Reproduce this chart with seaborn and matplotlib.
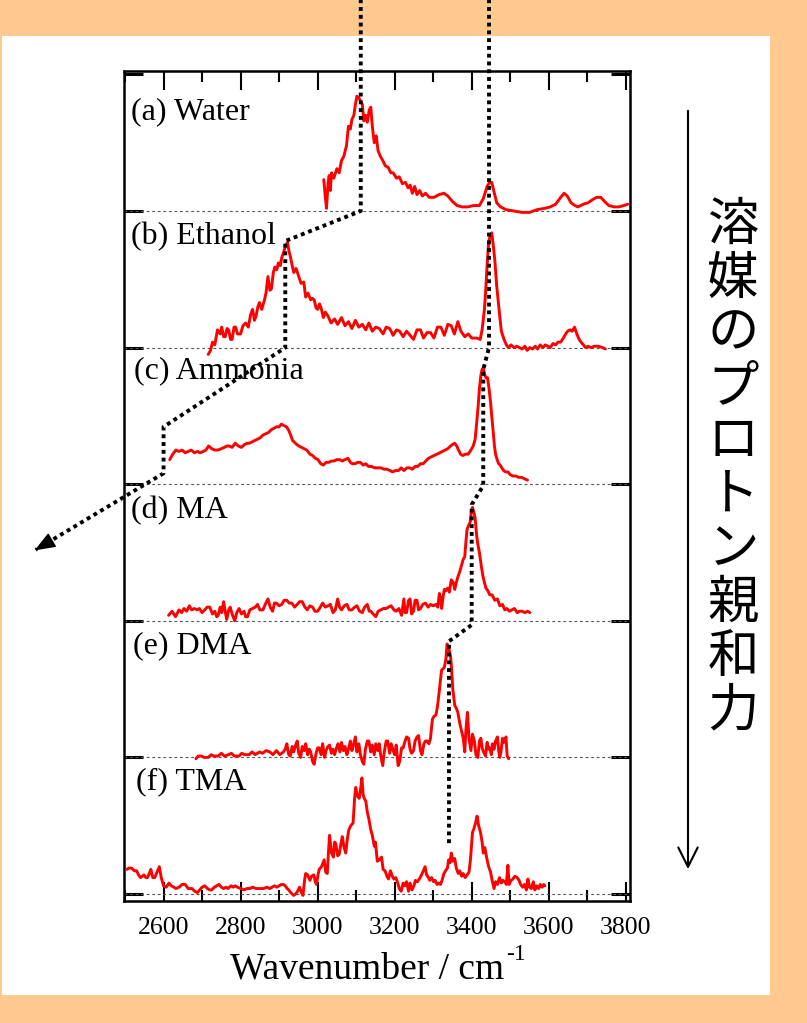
import numpy as np
import pandas as pd
import matplotlib
matplotlib.use("Agg")
import matplotlib.pyplot as plt
import seaborn as sns
from matplotlib.patches import Rectangle, FancyArrowPatch
from matplotlib.ticker import MultipleLocator

# ---------------- data ----------------
panel_labels = ["(a) Water", "(b) Ethanol", "(c) Ammonia", "(d) MA", "(e) DMA", "(f) TMA"]
panel_offsets = [5, 4, 3, 2, 1, 0]

water_wn = [3016, 3020, 3023, 3027, 3030, 3033, 3036, 3042, 3050, 3056, 3062, 3068, 3075, 3080, 3085, 3089,
            3094, 3098, 3102, 3107, 3112, 3116, 3120, 3125, 3129, 3134, 3138, 3142, 3147, 3152, 3157, 3163,
            3169, 3176, 3183, 3190, 3196, 3205, 3212, 3220, 3228, 3235, 3240, 3246, 3252, 3258, 3265, 3272,
            3280, 3290, 3302, 3315, 3328, 3338, 3350, 3362, 3375, 3390, 3405, 3420, 3430, 3440, 3447, 3452,
            3458, 3465, 3475, 3489, 3510, 3530, 3550, 3570, 3590, 3604, 3618, 3631, 3640, 3648, 3658, 3668,
            3676, 3690, 3702, 3712, 3724, 3735, 3745, 3756, 3770, 3782, 3795, 3805]
water_int = [0.23, 0.10, 0.02, 0.20, 0.26, 0.15, 0.28, 0.24, 0.31, 0.28, 0.37, 0.40, 0.48, 0.62, 0.60, 0.67,
             0.70, 0.78, 0.84, 0.83, 0.80, 0.78, 0.66, 0.70, 0.65, 0.74, 0.76, 0.62, 0.50, 0.55, 0.44, 0.40,
             0.37, 0.33, 0.32, 0.28, 0.28, 0.24, 0.25, 0.20, 0.21, 0.17, 0.19, 0.13, 0.18, 0.12, 0.15, 0.11,
             0.13, 0.10, 0.10, 0.12, 0.13, 0.11, 0.07, 0.04, 0.03, 0.03, 0.04, 0.04, 0.09, 0.18, 0.21, 0.21,
             0.14, 0.06, 0.03, 0.01, 0.00, -0.01, -0.01, 0.01, 0.02, 0.03, 0.05, 0.10, 0.13, 0.11, 0.06, 0.04,
             0.03, 0.05, 0.06, 0.08, 0.10, 0.10, 0.07, 0.04, 0.03, 0.03, 0.04, 0.05]

ethanol_wn = [2716, 2722, 2727, 2733, 2740, 2747, 2751, 2756, 2760, 2765, 2769, 2774, 2778, 2783, 2787, 2792,
              2800, 2806, 2813, 2820, 2826, 2831, 2836, 2840, 2845, 2849, 2855, 2862, 2866, 2871, 2876, 2880,
              2885, 2889, 2894, 2898, 2903, 2907, 2912, 2916, 2922, 2926, 2929, 2934, 2938, 2944, 2951, 2957,
              2964, 2969, 2975, 2982, 2987, 2991, 2996, 3000, 3005, 3009, 3015, 3020, 3027, 3035, 3044, 3052,
              3062, 3071, 3080, 3089, 3098, 3107, 3116, 3125, 3133, 3142, 3151, 3160, 3170, 3178, 3187, 3196,
              3205, 3213, 3222, 3231, 3240, 3249, 3258, 3267, 3275, 3284, 3293, 3302, 3311, 3320, 3329, 3338,
              3347, 3355, 3364, 3372, 3382, 3391, 3400, 3413, 3422, 3427, 3433, 3436, 3440, 3444, 3448, 3452,
              3456, 3460, 3465, 3471, 3477, 3484, 3490, 3496, 3502, 3510, 3517, 3524, 3531, 3538, 3544, 3551,
              3558, 3565, 3571, 3578, 3585, 3591, 3598, 3604, 3611, 3618, 3624, 3631, 3638, 3644, 3649, 3655,
              3661, 3667, 3673, 3679, 3684, 3690, 3696, 3702, 3710, 3718, 3729, 3740, 3747]
ethanol_int = [-0.05, -0.02, 0.04, 0.02, 0.13, 0.10, 0.15, 0.08, 0.08, 0.14, 0.13, 0.06, 0.06, 0.15, 0.15, 0.10,
               0.10, 0.16, 0.18, 0.15, 0.24, 0.28, 0.20, 0.23, 0.30, 0.33, 0.28, 0.35, 0.40, 0.52, 0.42, 0.43,
               0.55, 0.59, 0.57, 0.62, 0.60, 0.66, 0.70, 0.74, 0.77, 0.70, 0.67, 0.60, 0.55, 0.58, 0.52, 0.47,
               0.48, 0.37, 0.40, 0.35, 0.36, 0.35, 0.29, 0.28, 0.32, 0.29, 0.22, 0.26, 0.23, 0.18, 0.21, 0.17,
               0.22, 0.16, 0.19, 0.14, 0.20, 0.15, 0.17, 0.13, 0.18, 0.12, 0.15, 0.14, 0.10, 0.15, 0.14, 0.09,
               0.13, 0.12, 0.08, 0.12, 0.09, 0.06, 0.13, 0.13, 0.07, 0.11, 0.11, 0.07, 0.15, 0.15, 0.09, 0.17,
               0.16, 0.10, 0.19, 0.12, 0.08, 0.10, 0.07, 0.07, 0.06, 0.13, 0.28, 0.40, 0.60, 0.77, 0.82, 0.84,
               0.75, 0.64, 0.45, 0.28, 0.12, 0.06, 0.02, 0.00, 0.02, 0.00, 0.01, 0.00, -0.01, 0.01, -0.02, 0.00,
               -0.01, 0.01, -0.01, 0.02, 0.00, 0.02, 0.01, 0.00, 0.03, 0.02, 0.04, 0.04, 0.07, 0.10, 0.12, 0.13,
               0.12, 0.15, 0.10, 0.06, 0.04, 0.02, 0.00, 0.01, 0.00, 0.01, 0.01, 0.00, -0.01]

ammonia_wn = [2616, 2624, 2632, 2640, 2648, 2656, 2664, 2672, 2680, 2688, 2695, 2703, 2710, 2717, 2725, 2733,
              2741, 2750, 2758, 2765, 2770, 2778, 2786, 2794, 2802, 2810, 2817, 2823, 2830, 2837, 2844, 2851,
              2858, 2866, 2873, 2880, 2887, 2893, 2900, 2906, 2912, 2919, 2924, 2930, 2935, 2942, 2951, 2958,
              2965, 2972, 2980, 2987, 2994, 3001, 3008, 3015, 3022, 3029, 3036, 3043, 3050, 3057, 3064, 3071,
              3079, 3085, 3090, 3097, 3104, 3111, 3118, 3125, 3132, 3140, 3148, 3156, 3164, 3172, 3180, 3188,
              3195, 3202, 3210, 3217, 3224, 3232, 3239, 3246, 3253, 3260, 3267, 3274, 3281, 3288, 3295, 3302,
              3310, 3317, 3324, 3331, 3338, 3345, 3350, 3356, 3361, 3366, 3371, 3377, 3384, 3391, 3398, 3404,
              3409, 3413, 3417, 3420, 3424, 3427, 3430, 3434, 3437, 3441, 3445, 3449, 3452, 3456, 3459, 3462,
              3466, 3470, 3474, 3478, 3483, 3488, 3494, 3500, 3507, 3515, 3522, 3530, 3537, 3545]
ammonia_int = [0.18, 0.22, 0.25, 0.24, 0.25, 0.23, 0.24, 0.25, 0.23, 0.24, 0.23, 0.24, 0.25, 0.28, 0.26, 0.25,
               0.25, 0.26, 0.27, 0.28, 0.28, 0.27, 0.30, 0.28, 0.27, 0.29, 0.30, 0.30, 0.31, 0.32, 0.33, 0.34,
               0.36, 0.37, 0.38, 0.40, 0.41, 0.42, 0.42, 0.44, 0.43, 0.42, 0.40, 0.36, 0.32, 0.30, 0.28, 0.27,
               0.26, 0.25, 0.22, 0.21, 0.19, 0.18, 0.15, 0.14, 0.16, 0.16, 0.17, 0.17, 0.18, 0.18, 0.17, 0.18,
               0.19, 0.16, 0.15, 0.15, 0.16, 0.16, 0.14, 0.15, 0.13, 0.13, 0.12, 0.12, 0.12, 0.11, 0.11, 0.10,
               0.09, 0.10, 0.10, 0.12, 0.10, 0.12, 0.12, 0.11, 0.13, 0.13, 0.15, 0.15, 0.17, 0.19, 0.20, 0.21,
               0.22, 0.23, 0.24, 0.25, 0.26, 0.28, 0.29, 0.30, 0.28, 0.25, 0.22, 0.21, 0.22, 0.22, 0.25, 0.28,
               0.33, 0.45, 0.58, 0.70, 0.80, 0.84, 0.85, 0.80, 0.78, 0.78, 0.70, 0.60, 0.50, 0.38, 0.28, 0.22,
               0.18, 0.15, 0.14, 0.12, 0.10, 0.09, 0.09, 0.07, 0.06, 0.06, 0.05, 0.05, 0.04, 0.03]

ma_wn = [2613, 2622, 2631, 2640, 2647, 2653, 2660, 2667, 2673, 2680, 2687, 2693, 2700, 2707, 2713, 2720,
         2727, 2733, 2738, 2742, 2747, 2751, 2756, 2760, 2764, 2769, 2773, 2778, 2782, 2785, 2790, 2796,
         2802, 2809, 2813, 2818, 2824, 2831, 2838, 2844, 2850, 2858, 2864, 2871, 2877, 2883, 2888, 2893,
         2900, 2907, 2913, 2920, 2926, 2933, 2940, 2947, 2953, 2960, 2967, 2973, 2980, 2987, 2993, 3000,
         3007, 3013, 3020, 3027, 3033, 3040, 3046, 3052, 3057, 3062, 3069, 3076, 3082, 3089, 3096, 3102,
         3109, 3116, 3122, 3129, 3134, 3138, 3144, 3151, 3157, 3164, 3171, 3178, 3184, 3191, 3198, 3204,
         3211, 3218, 3224, 3227, 3231, 3236, 3240, 3244, 3249, 3253, 3258, 3262, 3267, 3273, 3280, 3287,
         3293, 3300, 3307, 3312, 3316, 3319, 3322, 3326, 3329, 3333, 3338, 3342, 3347, 3352, 3356, 3360,
         3364, 3369, 3373, 3378, 3382, 3385, 3388, 3392, 3396, 3399, 3402, 3406, 3409, 3413, 3416, 3420,
         3425, 3429, 3433, 3437, 3442, 3447, 3453, 3460, 3467, 3473, 3480, 3486, 3491, 3498, 3504, 3511,
         3518, 3524, 3531, 3538, 3545, 3551]
ma_int = [0.04, 0.07, 0.03, 0.08, 0.06, 0.09, 0.07, 0.11, 0.08, 0.09, 0.08, 0.09, 0.06, 0.08, 0.10, 0.10,
          0.05, 0.07, 0.03, 0.04, 0.10, 0.06, 0.14, 0.07, 0.01, 0.08, 0.10, 0.05, 0.02, 0.00, 0.06, 0.09,
          0.05, 0.07, 0.03, 0.03, 0.08, 0.09, 0.10, 0.12, 0.08, 0.08, 0.12, 0.16, 0.10, 0.07, 0.13, 0.13,
          0.11, 0.12, 0.15, 0.15, 0.13, 0.13, 0.10, 0.12, 0.14, 0.14, 0.10, 0.08, 0.11, 0.10, 0.07, 0.07,
          0.10, 0.13, 0.10, 0.11, 0.12, 0.06, 0.08, 0.16, 0.10, 0.08, 0.11, 0.12, 0.08, 0.08, 0.10, 0.11,
          0.07, 0.06, 0.10, 0.12, 0.07, 0.07, 0.05, 0.03, 0.07, 0.08, 0.09, 0.09, 0.10, 0.11, 0.08, 0.07,
          0.09, 0.04, 0.16, 0.06, 0.06, 0.15, 0.16, 0.05, 0.07, 0.15, 0.15, 0.08, 0.09, 0.12, 0.13, 0.10,
          0.12, 0.11, 0.12, 0.10, 0.20, 0.17, 0.09, 0.18, 0.23, 0.22, 0.24, 0.21, 0.30, 0.28, 0.23, 0.28,
          0.32, 0.36, 0.40, 0.45, 0.47, 0.58, 0.67, 0.70, 0.72, 0.80, 0.83, 0.79, 0.75, 0.62, 0.56, 0.50,
          0.40, 0.33, 0.28, 0.24, 0.22, 0.19, 0.19, 0.15, 0.16, 0.11, 0.12, 0.08, 0.09, 0.07, 0.08, 0.09,
          0.06, 0.07, 0.07, 0.06, 0.07, 0.06]

dma_wn = [2684, 2690, 2698, 2705, 2716, 2724, 2730, 2742, 2750, 2758, 2769, 2776, 2784, 2796, 2803, 2810,
          2822, 2830, 2838, 2849, 2857, 2866, 2876, 2884, 2893, 2902, 2911, 2916, 2920, 2925, 2929, 2934,
          2938, 2943, 2947, 2951, 2956, 2960, 2965, 2969, 2974, 2978, 2982, 2987, 2991, 2996, 3000, 3004,
          3009, 3013, 3018, 3022, 3027, 3031, 3036, 3040, 3044, 3049, 3053, 3058, 3062, 3067, 3071, 3076,
          3080, 3085, 3089, 3093, 3098, 3102, 3107, 3111, 3116, 3120, 3124, 3129, 3133, 3138, 3142, 3147,
          3151, 3156, 3160, 3164, 3169, 3173, 3178, 3182, 3187, 3191, 3196, 3200, 3204, 3209, 3213, 3218,
          3222, 3227, 3231, 3236, 3240, 3244, 3249, 3253, 3258, 3262, 3267, 3271, 3276, 3280, 3284, 3289,
          3293, 3298, 3302, 3307, 3311, 3316, 3319, 3322, 3326, 3329, 3333, 3336, 3340, 3342, 3345, 3347,
          3351, 3356, 3360, 3364, 3369, 3373, 3378, 3382, 3385, 3389, 3393, 3398, 3402, 3407, 3411, 3416,
          3420, 3424, 3427, 3431, 3436, 3440, 3444, 3447, 3451, 3454, 3458, 3462, 3467, 3470, 3473, 3476,
          3480, 3484, 3489, 3492, 3496]
dma_int = [-0.01, 0.01, 0.01, 0.00, 0.00, 0.02, 0.01, 0.01, 0.03, 0.01, 0.02, 0.03, 0.01, 0.01, 0.03, 0.02,
           0.02, 0.04, 0.02, 0.04, 0.03, 0.05, 0.04, 0.02, 0.05, 0.02, 0.04, 0.06, 0.10, 0.02, 0.01, 0.08,
           0.04, 0.09, 0.12, 0.03, 0.00, 0.08, 0.05, 0.10, 0.02, 0.06, 0.04, -0.03, -0.05, 0.03, 0.07, 0.07,
           0.02, 0.10, 0.00, 0.05, 0.08, 0.09, 0.03, 0.06, 0.02, 0.07, 0.10, 0.04, 0.11, 0.05, 0.08, 0.02,
           0.06, 0.12, 0.05, 0.09, 0.15, 0.04, 0.10, 0.02, -0.03, -0.05, 0.06, 0.12, 0.12, 0.04, 0.09, 0.02,
           0.10, 0.05, 0.10, 0.01, -0.06, 0.04, 0.12, 0.12, 0.03, 0.10, 0.05, 0.02, 0.09, -0.06, -0.03, 0.07,
           0.07, 0.12, 0.15, 0.14, 0.06, 0.03, 0.05, 0.12, 0.15, 0.16, 0.05, 0.02, 0.10, 0.12, 0.12, 0.10,
           0.14, 0.28, 0.30, 0.31, 0.37, 0.49, 0.57, 0.64, 0.65, 0.66, 0.72, 0.83, 0.80, 0.78, 0.74, 0.68,
           0.50, 0.38, 0.36, 0.33, 0.25, 0.20, 0.14, 0.04, 0.20, 0.33, 0.14, 0.05, 0.17, 0.12, 0.02, 0.00,
           0.12, 0.14, 0.07, 0.04, 0.01, 0.11, 0.06, 0.07, 0.02, 0.10, 0.06, 0.12, 0.15, 0.05, 0.00, 0.04,
           0.14, 0.11, 0.15, 0.01, -0.01]

tma_wn = [2505, 2510, 2517, 2524, 2530, 2535, 2540, 2545, 2549, 2554, 2558, 2563, 2567, 2572, 2577, 2583,
          2589, 2594, 2600, 2607, 2614, 2620, 2627, 2632, 2640, 2648, 2656, 2664, 2674, 2681, 2688, 2694,
          2700, 2707, 2714, 2720, 2725, 2732, 2738, 2744, 2750, 2756, 2762, 2767, 2775, 2781, 2786, 2792,
          2800, 2809, 2816, 2824, 2832, 2840, 2848, 2855, 2860, 2868, 2876, 2882, 2888, 2894, 2900, 2906,
          2911, 2916, 2921, 2925, 2930, 2934, 2938, 2943, 2948, 2953, 2958, 2962, 2966, 2969, 2974, 2980,
          2984, 2990, 2994, 2997, 3001, 3004, 3010, 3017, 3021, 3025, 3028, 3031, 3036, 3041, 3044, 3047,
          3052, 3056, 3060, 3064, 3068, 3073, 3077, 3081, 3086, 3092, 3096, 3099, 3103, 3108, 3112, 3115,
          3118, 3121, 3125, 3129, 3133, 3138, 3142, 3147, 3150, 3155, 3160, 3166, 3170, 3175, 3180, 3184,
          3189, 3194, 3198, 3203, 3208, 3212, 3217, 3222, 3226, 3231, 3236, 3240, 3245, 3250, 3254, 3259,
          3264, 3268, 3273, 3279, 3283, 3288, 3291, 3296, 3301, 3305, 3310, 3314, 3319, 3323, 3328, 3332,
          3337, 3340, 3344, 3347, 3351, 3356, 3360, 3365, 3369, 3374, 3378, 3383, 3388, 3393, 3397, 3402,
          3406, 3410, 3414, 3418, 3423, 3427, 3430, 3434, 3440, 3444, 3449, 3453, 3458, 3462, 3467, 3472,
          3477, 3481, 3486, 3490, 3494, 3497, 3502, 3507, 3512, 3518, 3523, 3527, 3532, 3537, 3542, 3546,
          3550, 3555, 3560, 3564, 3569, 3574, 3578, 3583, 3587, 3590]
tma_int = [0.18, 0.19, 0.19, 0.17, 0.17, 0.14, 0.12, 0.13, 0.14, 0.12, 0.12, 0.15, 0.18, 0.12, 0.12, 0.16,
           0.20, 0.12, 0.06, 0.05, 0.08, 0.06, 0.05, 0.04, 0.05, 0.07, 0.07, 0.04, 0.04, 0.02, 0.01, 0.03,
           0.05, 0.06, 0.04, 0.03, 0.03, 0.05, 0.06, 0.07, 0.05, 0.04, 0.05, 0.04, 0.06, 0.05, 0.06, 0.05,
           0.04, 0.03, 0.04, 0.04, 0.05, 0.04, 0.04, 0.04, 0.04, 0.05, 0.04, 0.05, 0.06, 0.05, 0.06, 0.07,
           0.07, 0.06, 0.04, 0.03, 0.01, 0.00, -0.01, 0.00, 0.02, 0.05, 0.01, -0.01, 0.10, 0.15, 0.14, 0.10,
           0.13, 0.14, 0.09, 0.07, 0.14, 0.18, 0.20, 0.25, 0.16, 0.15, 0.30, 0.43, 0.30, 0.27, 0.38, 0.37,
           0.28, 0.29, 0.36, 0.42, 0.35, 0.30, 0.40, 0.47, 0.50, 0.52, 0.70, 0.78, 0.72, 0.70, 0.78, 0.85,
           0.73, 0.70, 0.68, 0.60, 0.55, 0.47, 0.43, 0.35, 0.38, 0.24, 0.25, 0.27, 0.18, 0.17, 0.13, 0.11,
           0.17, 0.13, 0.11, 0.12, 0.08, 0.04, 0.02, 0.08, 0.06, 0.09, 0.02, 0.08, 0.03, 0.06, 0.10, 0.09,
           0.11, 0.13, 0.16, 0.20, 0.14, 0.12, 0.10, 0.12, 0.09, 0.10, 0.07, 0.08, 0.07, 0.10, 0.15, 0.17,
           0.19, 0.25, 0.23, 0.30, 0.24, 0.26, 0.19, 0.15, 0.17, 0.13, 0.15, 0.12, 0.14, 0.16, 0.26, 0.45,
           0.48, 0.52, 0.57, 0.50, 0.45, 0.38, 0.30, 0.34, 0.25, 0.20, 0.16, 0.10, 0.04, 0.09, 0.07, 0.12,
           0.08, 0.10, 0.09, 0.07, 0.21, 0.07, 0.10, 0.11, 0.13, 0.12, 0.10, 0.07, 0.05, 0.07, 0.03, 0.11,
           0.05, 0.04, 0.09, 0.03, 0.06, 0.04, 0.07, 0.05, 0.07, 0.06]

spectra_wn = [water_wn, ethanol_wn, ammonia_wn, ma_wn, dma_wn, tma_wn]
spectra_int = [water_int, ethanol_int, ammonia_int, ma_int, dma_int, tma_int]

# guide lines (peak shifts)
guide1_wn = [3112, 3112, 2916, 2916, 2600, 2600, 2268]
guide1_y = [6.55, 5.0, 4.78, 4.0, 3.42, 3.08, 2.52]
guide2_wn = [3445, 3445, 3430, 3430, 3400, 3400, 3341, 3341]
guide2_y = [6.55, 4.0, 3.84, 2.99, 2.85, 1.97, 1.85, 0.36]

x_ticks = [2600, 2800, 3000, 3200, 3400, 3600, 3800]
x_label = "Wavenumber / cm"
x_label_sup = "-1"
side_text = "溶媒のプロトン親和力"

# ---------------- style ----------------
sns.set_theme(style="ticks")
plt.rcParams["font.family"] = ["Liberation Serif", "DejaVu Serif"]
for key in ["text.color", "axes.labelcolor", "xtick.color", "ytick.color", "axes.edgecolor"]:
    plt.rcParams[key] = "black"

ORANGE = "#FFC98F"
fig = plt.figure(figsize=(8.07, 10.23), dpi=100, facecolor=ORANGE)
fig.patches.append(Rectangle((2 / 807, 28 / 1023), 768 / 807, 959 / 1023,
                             transform=fig.transFigure, facecolor="white",
                             edgecolor="none", zorder=-10))

ax = fig.add_axes([123.5 / 807, 1 - 900.7 / 1023, (630 - 123.5) / 807, (900.7 - 71) / 1023])
ax.set_facecolor("white")
ax.set_zorder(2)

for off in panel_offsets:
    ax.axhline(off, color="#555555", lw=0.8, ls=(0, (2.5, 2.5)), zorder=1)

for wn, inten, off in zip(spectra_wn, spectra_int, panel_offsets):
    df = pd.DataFrame({"wn": wn, "y": np.asarray(inten) + off})
    sns.lineplot(data=df, x="wn", y="y", ax=ax, color="#FF0000", lw=2.1,
                 estimator=None, sort=False, zorder=3)

ax.plot(guide1_wn, guide1_y, color="black", lw=2.8, ls=(0, (1, 1)), clip_on=False, zorder=5)
ax.plot(guide2_wn, guide2_y, color="black", lw=2.8, ls=(0, (1, 1)), clip_on=False, zorder=5)
ax.annotate("", xy=(guide1_wn[-1] - 3, guide1_y[-1] - 0.005),
            xytext=(guide1_wn[-1] + 30, guide1_y[-1] + 0.05),
            arrowprops=dict(arrowstyle="-|>,head_length=0.65,head_width=0.25",
                            color="black", lw=1.0, mutation_scale=20,
                            shrinkA=0, shrinkB=0),
            annotation_clip=False, zorder=6)

label_y = [5.73, 4.81, 3.83, 2.81, 1.82, 0.82]
label_x = [2515, 2515, 2522, 2516, 2521, 2529]
for lab, lx, ly in zip(panel_labels, label_x, label_y):
    ax.text(lx, ly, lab, fontsize=23, ha="left", va="center", zorder=4, color="black")

ax.set_xlim(2496, 3811)
ax.set_ylim(-0.049, 6.025)
ax.set_xticks(x_ticks)
ax.set_xticklabels([str(t) for t in x_ticks])
ax.xaxis.set_minor_locator(MultipleLocator(100))
ax.set_yticks([0, 1, 2, 3, 4, 5, 6])
ax.set_yticklabels([])
ax.tick_params(axis="x", which="major", direction="in", length=14, width=1.5,
               top=True, bottom=True, labelsize=18.5, pad=12, colors="black")
ax.tick_params(axis="x", which="minor", direction="in", length=8, width=1.5,
               top=True, bottom=True, colors="black")
ax.tick_params(axis="y", which="major", direction="in", length=14, width=2.2,
               left=True, right=True, colors="black")
for s in ax.spines.values():
    s.set_linewidth(1.8)
    s.set_color("black")
ax.set_xlabel(x_label, fontsize=27, labelpad=9, color="black")
ax.xaxis.label.set_x((367 - 123.5) / (630 - 123.5))
ax.set_ylabel("")
ax.annotate(x_label_sup, xy=(1.0, 0.62), xycoords=ax.xaxis.label,
            xytext=(1.5, 0), textcoords="offset points",
            fontsize=17, ha="left", va="bottom", color="black")

# right side annotation
fig.add_artist(FancyArrowPatch((688 / 807, 915 / 1023), (688 / 807, 151 / 1023),
                               transform=fig.transFigure,
                               arrowstyle="->,head_length=0.7,head_width=0.35",
                               mutation_scale=20, lw=1.5, color="black"))
for i, ch in enumerate(side_text):
    fig.text(733 / 807, 1 - (225 + i * 54.0) / 1023, ch, fontsize=37,
             family=["Noto Sans CJK JP"], weight="normal", color="black",
             ha="center", va="center")

fig.savefig("out.png", dpi=100, facecolor=ORANGE)
